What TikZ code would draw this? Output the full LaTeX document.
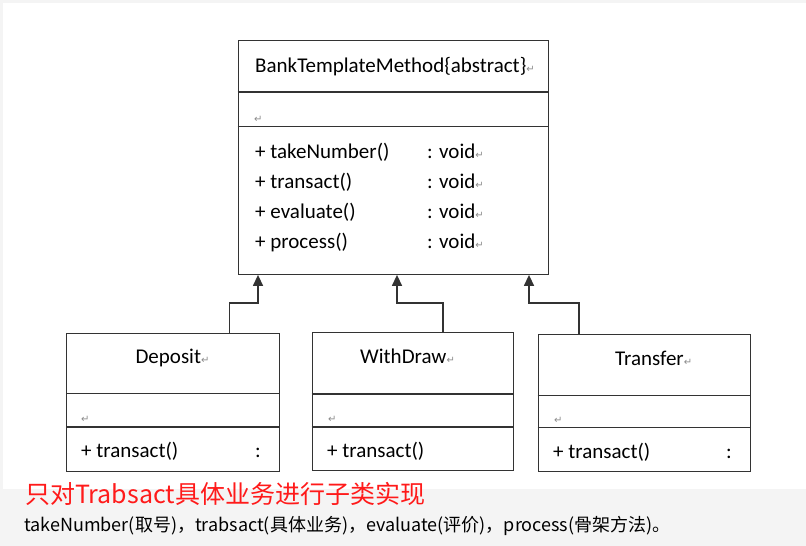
\documentclass[tikz,border=0pt]{standalone}
\usepackage{fontspec}
\setmainfont{Carlito}
\newfontfamily\cjk{Noto Sans CJK SC}
\newfontfamily\symfont{DejaVu Sans}
\usetikzlibrary{arrows.meta}
\definecolor{linegray}{HTML}{333333}
\definecolor{bggray}{HTML}{F4F4F4}
\definecolor{markgray}{HTML}{8C8C8C}
\definecolor{redtext}{HTML}{FF1A1A}
\definecolor{inkcol}{HTML}{000000}
\newcommand{\retmark}{\textcolor{markgray}{\symfont\fontsize{10}{10}\selectfont\char"21B5}}
\begin{document}
\begin{tikzpicture}[x=1pt,y=-1pt,
  box/.style={draw=linegray, line width=1.4pt, rectangle, anchor=north west, inner sep=0pt},
  divl/.style={draw=linegray, line width=1.4pt},
  txt/.style={anchor=base west, inner sep=0pt, text=inkcol, font=\fontsize{21}{21}\selectfont},
  ctxt/.style={anchor=base, inner sep=0pt, text=inkcol, font=\fontsize{21}{21}\selectfont},
  retm/.style={anchor=base west, inner sep=0pt},
  inh/.style={draw=linegray, line width=1.4pt, -{Triangle[width=10pt,length=11pt]}},
]
\fill[bggray] (0,0) rectangle (806,546);
\fill[white] (3,3) rectangle (806,489);
\useasboundingbox (0,0) rectangle (806,546);

% main abstract class
\node[box, minimum width=310.5pt, minimum height=233.5pt] (main) at (237.5,40) {};
\draw[divl] ([yshift=-52pt]main.north west) -- ([yshift=-52pt]main.north east);
\draw[divl] ([yshift=-86.5pt]main.north west) -- ([yshift=-86.5pt]main.north east);
\node[txt] (t0) at (255,72) {BankTemplateMethod\{abstract\}\retmark};
\node[retm] (m0) at (254,122) {\retmark};
\node[txt] (r1) at (255,158) {+ takeNumber()};
\node[txt] (v1) at (427,158) {: void\retmark};
\node[txt] (r2) at (255,188) {+ transact()};
\node[txt] (v2) at (427,188) {: void\retmark};
\node[txt] (r3) at (255,218) {+ evaluate()};
\node[txt] (v3) at (427,218) {: void\retmark};
\node[txt] (r4) at (255,248) {+ process()};
\node[txt] (v4) at (427,248) {: void\retmark};

% Deposit
\node[box, minimum width=213pt, minimum height=138pt] (dep) at (66,332.5) {};
\draw[divl] ([yshift=-61pt]dep.north west) -- ([yshift=-61pt]dep.north east);
\draw[divl] ([yshift=-94.5pt]dep.north west) -- ([yshift=-94.5pt]dep.north east);
\node[ctxt] (dept) at (172.5,363) {Deposit\retmark};
\node[retm] (depm) at (81,422) {\retmark};
\node[txt] (depr) at (81,457) {+ transact()};
\node[txt] (depc) at (255,457) {:};

% WithDraw
\node[box, minimum width=201.5pt, minimum height=137.5pt] (wd) at (311.5,332) {};
\draw[divl] ([yshift=-62pt]wd.north west) -- ([yshift=-62pt]wd.north east);
\draw[divl] ([yshift=-95pt]wd.north west) -- ([yshift=-95pt]wd.north east);
\node[txt] (wdt) at (360,363) {WithDraw\retmark};
\node[retm] (wdm) at (328,422) {\retmark};
\node[txt] (wdr) at (327,457) {+ transact()};

% Transfer
\node[box, minimum width=212.5pt, minimum height=137pt] (tr) at (537.5,334) {};
\draw[divl] ([yshift=-61.5pt]tr.north west) -- ([yshift=-61.5pt]tr.north east);
\draw[divl] ([yshift=-93.5pt]tr.north west) -- ([yshift=-93.5pt]tr.north east);
\node[txt] (trt) at (615,365) {Transfer\retmark};
\node[retm] (trm) at (554,423) {\retmark};
\node[txt] (trr) at (553,458) {+ transact()};
\node[txt] (trc) at (726,458) {:};

% inheritance connectors
\coordinate (j1) at (229.5,303); \coordinate (k1) at (258,303);
\coordinate (j2) at (443,303);   \coordinate (k2) at (397,303);
\coordinate (j3) at (579,303);   \coordinate (k3) at (529,303);
\draw[inh] (dep.north -| j1) -- (j1) -- (k1) -- (k1 |- main.south);
\draw[inh] (wd.north -| j2) -- (j2) -- (k2) -- (k2 |- main.south);
\draw[inh] (tr.north -| j3) -- (j3) -- (k3) -- (k3 |- main.south);

% caption
\node[anchor=base west, inner sep=0pt, text=redtext, font=\cjk\fontsize{25}{25}\selectfont] (note) at (25,503.5) {只对Trabsact具体业务进行子类实现};
\node[anchor=base west, inner sep=0pt, text=inkcol, font=\cjk\fontsize{18}{18}\selectfont] (desc) at (24,531) {takeNumber(取号)，trabsact(具体业务)，evaluate(评价)，process(骨架方法)。};
\end{tikzpicture}
\end{document}
